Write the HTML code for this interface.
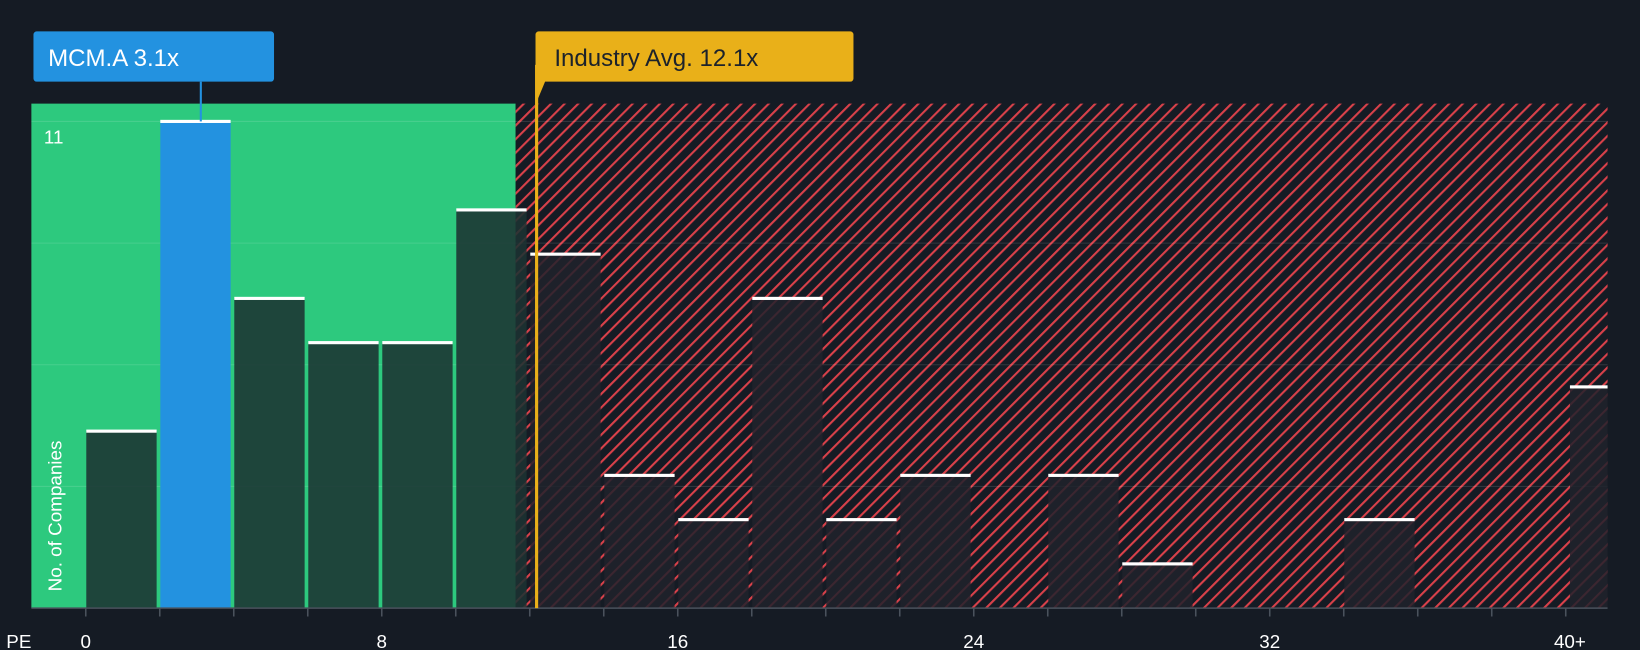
<!DOCTYPE html>
<html><head><meta charset="utf-8"><style>
html,body{margin:0;padding:0;background:#151b24;}
svg{display:block;font-family:"Liberation Sans",sans-serif;}
</style></head><body>
<svg id="c" width="1640" height="650" viewBox="0 0 1568 621" preserveAspectRatio="none">
<defs>
<pattern id="hatch" patternUnits="userSpaceOnUse" width="9.2" height="9.2" patternTransform="rotate(45)">
<rect width="9.2" height="9.2" fill="#151b24"/>
<rect x="0" y="0" width="2" height="9.2" fill="#d9414a"/>
</pattern>
</defs>
<rect x="0" y="0" width="1568" height="621" fill="#151b24"/>
<rect x="30" y="99" width="463" height="482" fill="#2dc97e"/>
<rect x="493" y="99" width="1044" height="482" fill="url(#hatch)"/>
<g id="grid"></g>
<g id="bars"></g>
<line x1="30" y1="581" x2="1537" y2="581" stroke="#4a525c" stroke-width="1.5"/>
<g id="ticks"></g>
<text x="42" y="137" fill="#ffffff" font-size="18">11</text>
<text x="0" y="0" transform="translate(59,565) rotate(-90)" fill="#ffffff" font-size="18">No. of Companies</text>
<text x="6" y="619" fill="#ffffff" font-size="18">PE</text>
<line id="indLine" x1="513" x2="513" y1="62" y2="581" stroke="#e9b019" stroke-width="3"/>
<g>
<rect x="512" y="30" width="304" height="48" rx="3" fill="#e9b019"/>
<polygon points="512,76 512,100 522,76" fill="#e9b019"/>
<text x="530" y="63" fill="#1c222b" font-size="23">Industry Avg. 12.1x</text>
</g>
<g>
<rect x="32" y="30" width="230" height="48" rx="3" fill="#2392e0"/>
<line x1="192" y1="78" x2="192" y2="116" stroke="#2392e0" stroke-width="2"/>
<text x="46" y="63" fill="#ffffff" font-size="23">MCM.A 3.1x</text>
</g>
</svg>
<script>
const binStarts=[0,2,4,6,8,10,12,14,16,18,20,22,24,26,28,30,32,34,36,38];
const counts=[4,11,7,6,6,9,8,3,2,7,2,3,0,3,1,0,0,2,0,0];
const overflowCount=5;
const tickLabels=["0","8","16","24","32","40+"];
const tickValues=[0,8,16,24,32,40];
const companyPE=3.1, industryPE=12.1, yMax=11;
const x=v=>82+v*35.375;
const y=v=>581-v*(465/yMax);
const ns="http://www.w3.org/2000/svg";
function mk(t,a,p){const e=document.createElementNS(ns,t);for(const k in a)e.setAttribute(k,a[k]);p.appendChild(e);return e;}
const grid=document.getElementById('grid');
for(let i=1;i<=4;i++){const g=mk('line',{x1:30,x2:1537,y1:y(yMax*i/4),y2:y(yMax*i/4),stroke:'rgba(255,255,255,0.12)','stroke-width':1},grid);

}
const bars=document.getElementById('bars');
function bar(x0,x1,v,isCo){
 if(v<=0)return;
 const fill=isCo?'#2392e0':(x0<493?'rgba(28,50,50,0.88)':'rgba(32,34,44,0.85)');
 const r=mk('rect',{x:x0,y:y(v),width:x1-x0,height:581-y(v),fill:fill},bars);
 
 
 const c=mk('rect',{x:x0,y:y(v)-1.5,width:x1-x0,height:3,fill:'#ffffff'},bars);
 
 
}
binStarts.forEach(function(b,i){const co=companyPE>=b&&companyPE<b+2;bar(x(b)+0.5,x(b+2)-3,counts[i],co);});
bar(x(40)+4,1537,overflowCount,false);
const ticks=document.getElementById('ticks');
for(let v=0;v<=40;v+=2){const t=mk('line',{x1:x(v),x2:x(v),y1:581,y2:589,stroke:'#4a525c','stroke-width':1.5},ticks);

}
tickValues.forEach(function(v,i){const t=mk('text',{x:x(v)+(i==5?4:0),y:619,fill:'#ffffff','font-size':18,'text-anchor':'middle'},ticks);t.textContent=tickLabels[i];

});
const il=document.getElementById('indLine');il.setAttribute('x1',x(industryPE)+3);il.setAttribute('x2',x(industryPE)+3);
</script>
</body></html>
